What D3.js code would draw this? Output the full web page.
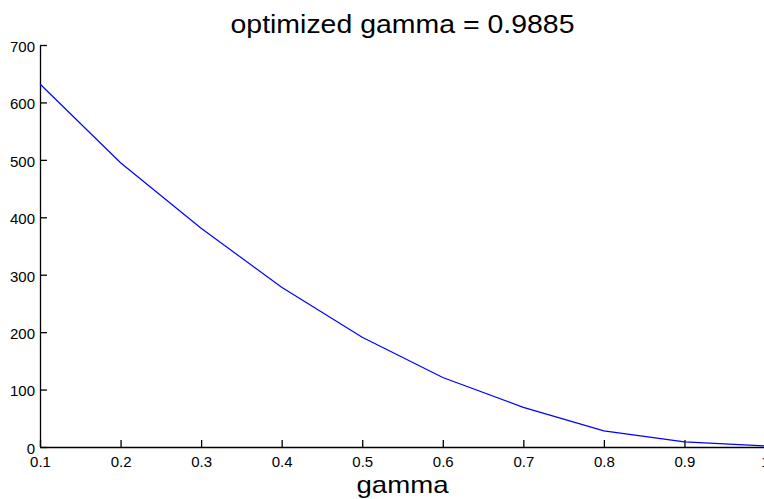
<!DOCTYPE html>
<html>
<head>
<meta charset="utf-8">
<script src="https://cdn.jsdelivr.net/npm/d3@7"></script>
<style>
  html, body { margin: 0; padding: 0; background: #fff; }
  svg { display: block; }
  text { font-family: "Liberation Sans", Arial, sans-serif; fill: #000; }
</style>
</head>
<body>
<svg id="chart" width="764" height="499"></svg>
<script>
// Data
const gammaValues = [0.1, 0.2, 0.3, 0.4, 0.5, 0.6, 0.7, 0.8, 0.9, 1.0];
const costValues  = [632, 495, 381, 278, 191, 121, 69, 28, 9, 2];
const xTickValues = [0.1, 0.2, 0.3, 0.4, 0.5, 0.6, 0.7, 0.8, 0.9, 1.0];
const xTickLabels = ["0.1", "0.2", "0.3", "0.4", "0.5", "0.6", "0.7", "0.8", "0.9", "1"];
const yTickValues = [0, 100, 200, 300, 400, 500, 600, 700];
const titleText = "optimized gamma = 0.9885";
const xLabelText = "gamma";

const svg = d3.select("#chart");
const mLeft = 40, mRight = 765, mTop = 45, mBottom = 447;

const x = d3.scaleLinear().domain([0.1, 1.0]).range([mLeft, mRight]);
const y = d3.scaleLinear().domain([0, 700]).range([mBottom, mTop]);

// X axis
const xAxis = d3.axisBottom(x)
  .tickValues(xTickValues)
  .tickFormat((d, i) => xTickLabels[i])
  .tickSizeInner(-7)
  .tickSizeOuter(0)
  .tickPadding(9);
const gx = svg.append("g").attr("transform", `translate(0,${mBottom})`).call(xAxis);
gx.attr("font-size", 15).attr("font-family", "Liberation Sans, Arial, sans-serif");
gx.select(".domain").attr("stroke", "#000").attr("stroke-width", 1.3);
gx.selectAll(".tick line").attr("stroke", "#000").attr("stroke-width", 1.3);
gx.selectAll(".tick text").attr("font-size", 15).attr("fill", "#000");

// Y axis
const yAxis = d3.axisLeft(y)
  .tickValues(yTickValues)
  .tickFormat(d3.format("d"))
  .tickSizeInner(-7)
  .tickSizeOuter(0)
  .tickPadding(5);
const gy = svg.append("g").attr("transform", `translate(${mLeft},0)`).call(yAxis);
gy.attr("font-size", 15).attr("font-family", "Liberation Sans, Arial, sans-serif");
gy.select(".domain").attr("stroke", "#000").attr("stroke-width", 1.3);
gy.selectAll(".tick line").attr("stroke", "#000").attr("stroke-width", 1.3);
gy.selectAll(".tick text").attr("font-size", 15).attr("dy", "0.42em").attr("fill", "#000");

// Line
const line = d3.line()
  .x((d, i) => x(gammaValues[i]))
  .y(d => y(d));
svg.append("path")
  .datum(costValues)
  .attr("fill", "none")
  .attr("stroke", "#0000ff")
  .attr("stroke-width", 1.2)
  .attr("d", line);

// Title
svg.append("text")
  .attr("x", (mLeft + mRight) / 2)
  .attr("y", 33)
  .attr("text-anchor", "middle")
  .attr("font-size", 25)
  .attr("textLength", 344)
  .attr("lengthAdjust", "spacingAndGlyphs")
  .text(titleText);

// X label
svg.append("text")
  .attr("x", (mLeft + mRight) / 2)
  .attr("y", 493)
  .attr("text-anchor", "middle")
  .attr("font-size", 24)
  .attr("textLength", 92)
  .attr("lengthAdjust", "spacingAndGlyphs")
  .text(xLabelText);
</script>
</body>
</html>
